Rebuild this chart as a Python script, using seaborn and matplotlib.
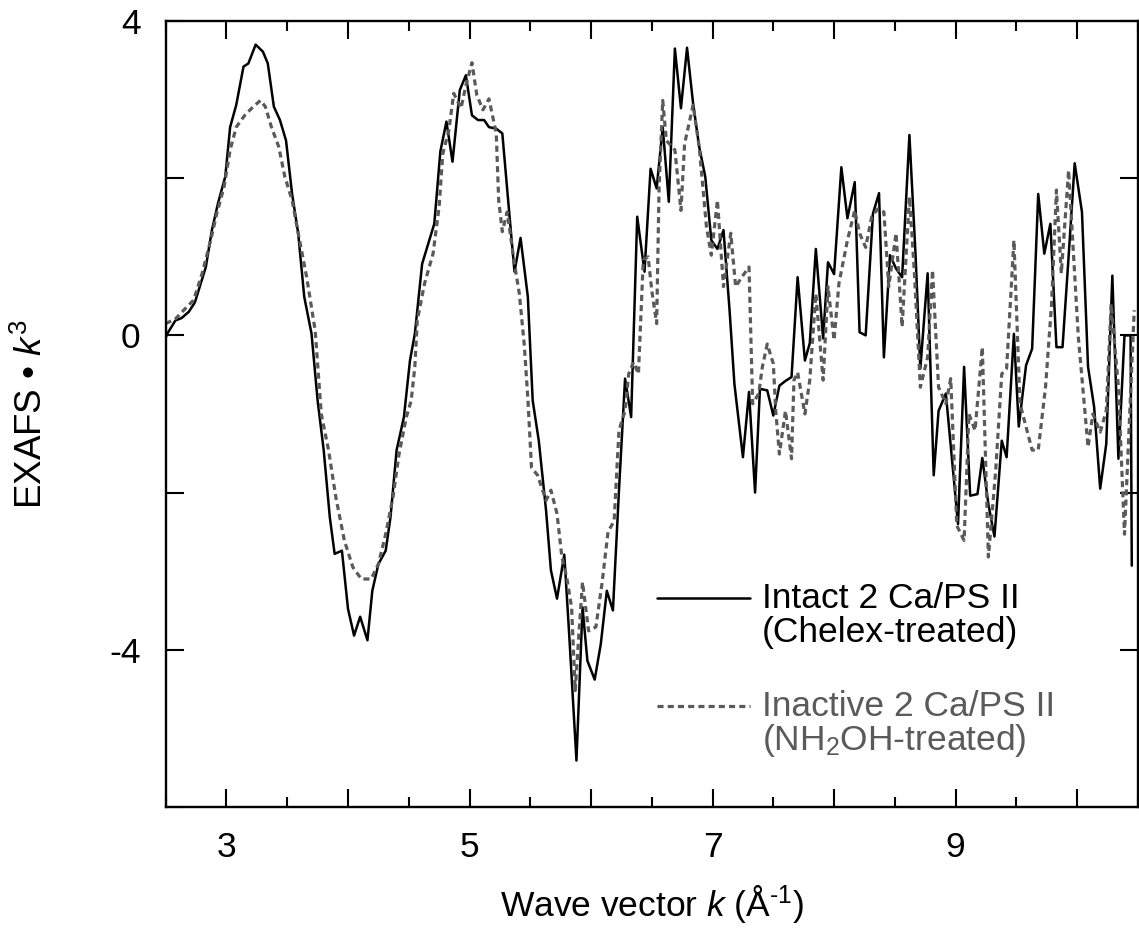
import matplotlib
matplotlib.use("Agg")
import matplotlib.pyplot as plt
from matplotlib.ticker import MultipleLocator, FuncFormatter
import seaborn as sns

# Chelex-treated (intact) sample, solid black
k_chelex = [2.49, 2.52, 2.58, 2.63, 2.69, 2.74, 2.83, 2.88, 2.93, 2.99,
            3.03, 3.08, 3.14, 3.18, 3.24, 3.30, 3.34, 3.39, 3.44, 3.49,
            3.54, 3.59, 3.64, 3.70, 3.75, 3.80, 3.85, 3.89, 3.95, 4.00,
            4.05, 4.10, 4.16, 4.20, 4.25, 4.31, 4.35, 4.40, 4.46, 4.51,
            4.55, 4.61, 4.71, 4.76, 4.81, 4.86, 4.92, 4.97, 5.02, 5.07,
            5.12, 5.16, 5.22, 5.27, 5.32, 5.37, 5.42, 5.48, 5.52, 5.57,
            5.63, 5.67, 5.72, 5.78, 5.82, 5.88, 5.93, 5.97, 6.03, 6.08,
            6.13, 6.18, 6.23, 6.28, 6.33, 6.38, 6.44, 6.49, 6.54, 6.59,
            6.64, 6.69, 6.74, 6.79, 6.84, 6.89, 6.94, 6.99, 7.04, 7.09,
            7.14, 7.18, 7.25, 7.30, 7.35, 7.39, 7.45, 7.50, 7.55, 7.60,
            7.65, 7.70, 7.76, 7.80, 7.85, 7.91, 7.95, 8.00, 8.06, 8.11,
            8.17, 8.21, 8.26, 8.32, 8.37, 8.41, 8.46, 8.51, 8.56, 8.62,
            8.67, 8.71, 8.77, 8.82, 8.86, 8.92, 9.02, 9.07, 9.12, 9.18,
            9.22, 9.27, 9.32, 9.38, 9.42, 9.48, 9.52, 9.58, 9.63, 9.68,
            9.73, 9.78, 9.83, 9.88, 9.93, 9.98, 10.04, 10.09, 10.14, 10.19,
            10.24, 10.29, 10.34, 10.39, 10.44, 10.45]
exafs_chelex = [-0.06, 0.04, 0.19, 0.22, 0.30, 0.42, 0.87, 1.34, 1.68, 2.02,
                2.65, 2.93, 3.42, 3.46, 3.70, 3.61, 3.46, 2.91, 2.74, 2.48,
                1.80, 1.30, 0.49, 0.02, -0.83, -1.46, -2.31, -2.78, -2.74, -3.48,
                -3.82, -3.58, -3.88, -3.25, -2.91, -2.74, -2.31, -1.46, -1.04, -0.32,
                0.02, 0.91, 1.42, 2.34, 2.72, 2.21, 3.12, 3.31, 2.80, 2.74,
                2.74, 2.65, 2.63, 2.57, 1.68, 0.81, 1.24, 0.49, -0.83, -1.34,
                -2.23, -2.99, -3.35, -2.79, -3.80, -5.41, -3.46, -4.14, -4.38, -3.93,
                -3.25, -3.50, -1.97, -0.55, -1.04, 1.51, 0.81, 2.12, 1.87, 2.65,
                1.70, 3.65, 2.89, 3.66, 2.95, 2.40, 2.02, 1.21, 1.10, 1.34,
                0.32, -0.62, -1.55, -0.72, -2.00, -0.68, -0.70, -1.02, -0.64, -0.58,
                -0.53, 0.74, -0.32, -0.10, 1.10, -0.04, 0.93, 0.78, 2.14, 1.49,
                1.95, 0.04, 0.00, 1.55, 1.81, -0.28, 1.02, 0.85, 0.74, 2.55,
                1.04, -0.42, 0.79, -1.78, -0.96, -0.74, -2.40, -0.40, -2.04, -2.02,
                -1.56, -2.15, -2.56, -1.34, -1.55, 0.02, -1.16, -0.38, -0.17, 1.80,
                1.04, 1.42, -0.15, -0.15, 1.00, 2.19, 1.57, -0.40, -0.91, -1.95,
                -1.38, 0.76, -1.57, 0.00, 0.00, -2.93]

# NH2OH-treated (inactive) sample, dashed grey
k_nh2oh = [2.50, 2.58, 2.66, 2.73, 2.80, 2.87, 2.92, 2.98, 3.03, 3.08,
           3.15, 3.22, 3.28, 3.32, 3.37, 3.43, 3.48, 3.54, 3.59, 3.66,
           3.73, 3.78, 3.84, 3.90, 3.97, 4.04, 4.11, 4.19, 4.25, 4.31,
           4.37, 4.42, 4.48, 4.52, 4.55, 4.57, 4.63, 4.70, 4.75, 4.78,
           4.83, 4.87, 4.93, 4.97, 5.02, 5.06, 5.11, 5.16, 5.22, 5.24,
           5.27, 5.31, 5.37, 5.41, 5.45, 5.48, 5.51, 5.56, 5.63, 5.67,
           5.72, 5.76, 5.80, 5.84, 5.87, 5.90, 5.93, 5.98, 6.04, 6.09,
           6.14, 6.19, 6.23, 6.28, 6.31, 6.35, 6.39, 6.43, 6.47, 6.50,
           6.54, 6.56, 6.59, 6.62, 6.69, 6.74, 6.77, 6.80, 6.84, 6.89,
           6.95, 6.99, 7.04, 7.09, 7.15, 7.19, 7.24, 7.30, 7.33, 7.38,
           7.41, 7.45, 7.50, 7.52, 7.55, 7.60, 7.65, 7.67, 7.70, 7.76,
           7.80, 7.85, 7.91, 7.95, 8.00, 8.04, 8.11, 8.17, 8.21, 8.26,
           8.31, 8.36, 8.41, 8.45, 8.51, 8.56, 8.62, 8.66, 8.71, 8.77,
           8.81, 8.86, 8.92, 8.96, 9.01, 9.07, 9.11, 9.16, 9.22, 9.27,
           9.33, 9.38, 9.42, 9.48, 9.53, 9.63, 9.68, 9.74, 9.79, 9.83,
           9.87, 9.93, 10.01, 10.07, 10.09, 10.13, 10.19, 10.24, 10.28, 10.34,
           10.39, 10.47]
exafs_nh2oh = [0.15, 0.21, 0.34, 0.45, 0.79, 1.21, 1.55, 1.89, 2.36, 2.65,
               2.80, 2.91, 2.99, 2.91, 2.65, 2.40, 2.02, 1.72, 1.30, 0.74,
               0.06, -1.00, -1.46, -2.06, -2.61, -2.95, -3.10, -3.10, -2.91, -2.53,
               -2.06, -1.51, -1.04, -0.83, -0.40, 0.19, 0.66, 1.04, 1.64, 2.31,
               2.61, 3.08, 2.89, 3.18, 3.47, 3.06, 2.87, 3.01, 2.57, 1.72,
               1.32, 1.57, 0.91, 0.53, -0.11, -0.80, -1.68, -1.78, -2.10, -1.97,
               -2.27, -2.82, -3.08, -3.46, -4.52, -3.80, -3.14, -3.76, -3.71, -3.16,
               -2.50, -2.36, -1.21, -0.96, -0.49, -0.34, -0.49, 0.96, 1.00, 0.57,
               0.15, 1.89, 2.99, 2.48, 2.36, 1.59, 2.44, 2.65, 2.93, 2.40,
               1.38, 1.02, 1.72, 0.62, 1.30, 0.62, 0.74, 0.87, -0.87, -0.74,
               -0.40, -0.11, -0.36, -0.96, -1.51, -0.96, -1.57, -0.57, -0.47, -1.00,
               -0.57, 0.53, -0.57, 0.62, -0.06, 0.66, 1.21, 1.59, 1.30, 1.12,
               1.51, 1.61, 1.57, 0.62, 1.30, 0.11, 1.76, 0.83, -0.66, -0.28,
               0.83, -0.66, -0.87, -0.55, -2.42, -2.61, -1.00, -1.21, -0.15, -2.82,
               -1.72, -0.49, -0.42, 1.21, -0.87, -1.46, -1.46, -0.66, 0.40, 1.85,
               0.79, 2.10, -0.02, -1.08, -1.42, -1.00, -1.23, -0.96, 0.40, -0.66,
               -2.53, 0.32]

label_chelex = ["Intact 2 Ca/PS II", "(Chelex-treated)"]
label_nh2oh = ["Inactive 2 Ca/PS II", "(NH$_2$OH-treated)"]

sns.set_style("ticks")
plt.rcParams['font.family'] = ['Liberation Sans', 'DejaVu Sans']
plt.rcParams['mathtext.fontset'] = 'custom'
plt.rcParams['mathtext.rm'] = 'Liberation Sans'
plt.rcParams['mathtext.it'] = 'Liberation Sans:italic'
plt.rcParams['axes.unicode_minus'] = False
plt.rcParams['text.color'] = 'black'
plt.rcParams['axes.labelcolor'] = 'black'

black = "#000000"
grey = "#5a5a5a"
fs = 25.5

fig = plt.figure(figsize=(11.39, 9.35), dpi=100)
ax = fig.add_axes([0.1455, 0.137, 0.8535, 0.8405])

sns.lineplot(x=k_chelex, y=exafs_chelex, ax=ax, sort=False, estimator=None,
             color=black, lw=1.8)
sns.lineplot(x=k_nh2oh, y=exafs_nh2oh, ax=ax, sort=False, estimator=None,
             color=grey, lw=2.3)
ax.lines[-1].set_dashes((1.9, 1.3))
ax.lines[-1].set_dash_capstyle("butt")

ax.set_xlim(2.5, 10.5)
ax.set_ylim(-6, 4)

ax.xaxis.set_major_locator(MultipleLocator(1))
ax.xaxis.set_minor_locator(MultipleLocator(0.5))
ax.yaxis.set_major_locator(MultipleLocator(2))
ax.xaxis.set_major_formatter(FuncFormatter(lambda v, p: f"{v:.0f}" if round(v) % 2 == 1 else ""))
ax.yaxis.set_major_formatter(FuncFormatter(lambda v, p: f"{v:.0f}" if round(v) % 4 == 0 else ""))

ax.tick_params(which="both", direction="in", top=True, right=True,
               width=1.5, colors=black, labelsize=fs)
ax.tick_params(which="major", length=13)
ax.tick_params(which="minor", length=7.5)
ax.tick_params(axis="x", pad=17)
ax.tick_params(axis="y", pad=18)
for s in ax.spines.values():
    s.set_linewidth(1.7)
    s.set_color(black)

ax.set_xlabel("Wave vector $k$ (Å$^{\\text{-1}}$)", fontsize=fs, labelpad=14, color=black)
ax.set_ylabel("EXAFS • $k^3$", fontsize=fs + 1, color=black)
ax.yaxis.set_label_coords(-0.119, 0.50)

# legend drawn by hand to keep the two-line labels next to the sample lines
ax.plot([0.505, 0.601], [0.2656, 0.2656], transform=ax.transAxes, color=black, lw=1.8)
ax.text(0.613, 0.2656, label_chelex[0], transform=ax.transAxes, fontsize=fs,
        color=black, va="center")
ax.text(0.613, 0.2223, label_chelex[1], transform=ax.transAxes, fontsize=fs,
        color=black, va="center")
leg_dash, = ax.plot([0.505, 0.601], [0.1282, 0.1282], transform=ax.transAxes,
                    color=grey, lw=2.3)
leg_dash.set_dashes((1.9, 1.3))
leg_dash.set_dash_capstyle("butt")
ax.text(0.613, 0.1282, label_nh2oh[0], transform=ax.transAxes, fontsize=fs,
        color=grey, va="center")
ax.text(0.613, 0.0850, label_nh2oh[1], transform=ax.transAxes, fontsize=fs,
        color=grey, va="center")

fig.savefig("out.png", dpi=100)
